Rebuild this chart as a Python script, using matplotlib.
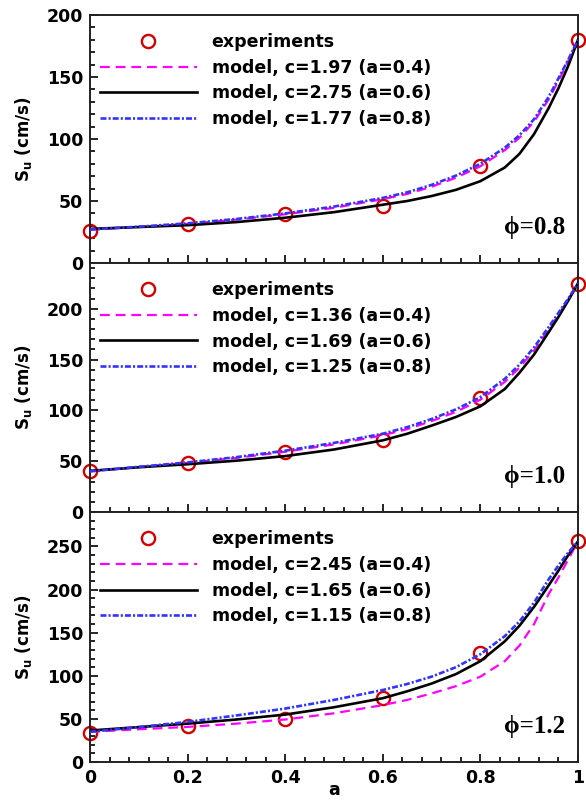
import numpy as np
import matplotlib
matplotlib.use('Agg')
from matplotlib import pyplot as plt

plt.rcParams['font.family'] = ['DejaVu Sans']
plt.rcParams['font.weight'] = 'bold'
plt.rcParams['lines.scale_dashes'] = False
plt.rcParams['mathtext.fontset'] = 'custom'
plt.rcParams['mathtext.bf'] = 'DejaVu Sans:bold'
plt.rcParams['mathtext.rm'] = 'DejaVu Sans:bold'

# experiment positions
a_exp = [0.0, 0.2, 0.4, 0.6, 0.8, 1.0]
# model curve sample positions
a_mod = [0.0, 0.1, 0.2, 0.3, 0.4, 0.5, 0.6, 0.65, 0.7, 0.75, 0.8, 0.85,
         0.88, 0.91, 0.94, 0.96, 0.98, 1.0]

# phi = 0.8
exp_08 = [26, 31.5, 39.5, 46, 78.5, 180]
mag_08 = [27, 29, 31.5, 35, 39.3, 44.5, 51.5, 55.7, 61.5, 68.8, 78, 91,
          101, 114, 132, 147, 163, 180]
blk_08 = [27.5, 29, 30.5, 33, 36.5, 41, 47, 50, 54, 59, 66, 77,
          88, 104, 125, 141, 159, 180]
blu_08 = [27, 29.3, 32, 35.5, 40, 45.5, 52.5, 57, 63, 70.5, 80, 93,
          103, 116, 134, 149, 164, 180]

# phi = 1.0
exp_10 = [40, 48.2, 59, 71, 112, 224]
mag_10 = [40, 44.2, 48.3, 53.2, 59.3, 66.5, 75.5, 81.5, 89.5, 98.5, 110.5, 128,
          142, 159, 180, 194, 209, 225]
blk_10 = [40.5, 44, 47, 50.5, 55, 61.5, 70.5, 77, 85, 93.5, 104, 121,
          137, 155, 177, 192, 208, 225]
blu_10 = [40, 44.5, 48.8, 54, 60.3, 68, 77, 83.5, 91.5, 101, 113, 131,
          145, 162, 182, 196, 210, 225]

# phi = 1.2
exp_12 = [34.2, 41.9, 49.7, 74.4, 126, 256]
mag_12 = [35, 38, 40.7, 44.5, 49.3, 56.5, 66, 72, 79.5, 88, 99, 117,
          135, 160, 195, 214, 235, 256]
blk_12 = [36.5, 40.5, 44.5, 49.3, 55, 63.5, 74, 82, 91, 102, 117, 140,
          158, 180, 205, 222, 240, 256]
blu_12 = [35, 40.5, 46.5, 54, 62, 72, 83.5, 90.5, 99, 110, 125, 146,
          163, 185, 212, 228, 243, 256]

phis = ['0.8', '1.0', '1.2']
c_labels = [['1.97', '2.75', '1.77'], ['1.36', '1.69', '1.25'], ['2.45', '1.65', '1.15']]
ylims = [200, 245, 290]
panels = [(exp_08, mag_08, blk_08, blu_08),
          (exp_10, mag_10, blk_10, blu_10),
          (exp_12, mag_12, blk_12, blu_12)]

fig = plt.figure(figsize=(5.86, 8.01), dpi=100)
left, right = 90 / 586, 578 / 586
edges = [15, 263, 512, 762]

for i, (ex, mg, bk, bl) in enumerate(panels):
    top = 1 - edges[i] / 801
    bot = 1 - edges[i + 1] / 801
    ax = fig.add_axes([left, bot, right - left, top - bot])
    ax.plot(a_exp, ex, 'o', ms=9.5, mfc='none', mec='#d40000', mew=1.7,
            label='experiments', zorder=2, clip_on=False)
    ax.plot(a_mod, mg, color='#ff00ff', lw=1.6, dashes=(7, 4.3),
            label=f'model, c={c_labels[i][0]} (a=0.4)', zorder=3)
    ax.plot(a_mod, bk, color='black', lw=1.9,
            label=f'model, c={c_labels[i][1]} (a=0.6)', zorder=4)
    ax.plot(a_mod, bl, color='#3333ff', lw=1.9, dashes=(4.3, 1.5, 1.5, 1.5),
            label=f'model, c={c_labels[i][2]} (a=0.8)', zorder=5)

    ax.set_xlim(0, 1)
    ax.set_ylim(0, ylims[i])
    ax.set_xticks(np.arange(0, 1.01, 0.2))
    ax.set_xticks(np.arange(0, 1.001, 0.04), minor=True)
    ax.set_yticks(np.arange(0, ylims[i] + 1, 50))
    ax.set_yticks(np.arange(0, ylims[i] + 1, 10), minor=True)
    ax.tick_params(which='both', direction='in', top=False, right=False,
                   labelsize=12.5, width=1.2, pad=5)
    ax.tick_params(which='major', length=6)
    ax.tick_params(which='minor', length=3.5)
    ax.set_xticklabels(['0', '0.2', '0.4', '0.6', '0.8', '1'])
    for s in ax.spines.values():
        s.set_linewidth(1.4)
        s.set_color('#222222')
    if i < 2:
        ax.tick_params(labelbottom=False)
    ax.set_ylabel(r'$\mathbf{S_u}$ (cm/s)', fontsize=12, fontweight='bold', labelpad=9)

    ax.legend(loc='upper left', bbox_to_anchor=(0.02, 0.928), frameon=False,
              fontsize=12.5, handlelength=5.6, handletextpad=0.85,
              labelspacing=0.45, borderpad=0, borderaxespad=0, numpoints=1)

    ax.text(0.973, 0.117, '\u03d5=' + phis[i], transform=ax.transAxes,
            ha='right', va='baseline', fontsize=18, fontweight='bold',
            family=['Liberation Serif', 'DejaVu Serif'])

fig.text((left + right) / 2, 0.002, 'a', ha='center', va='bottom',
         fontsize=12.5, fontweight='bold')

fig.savefig('out.png', dpi=100)
